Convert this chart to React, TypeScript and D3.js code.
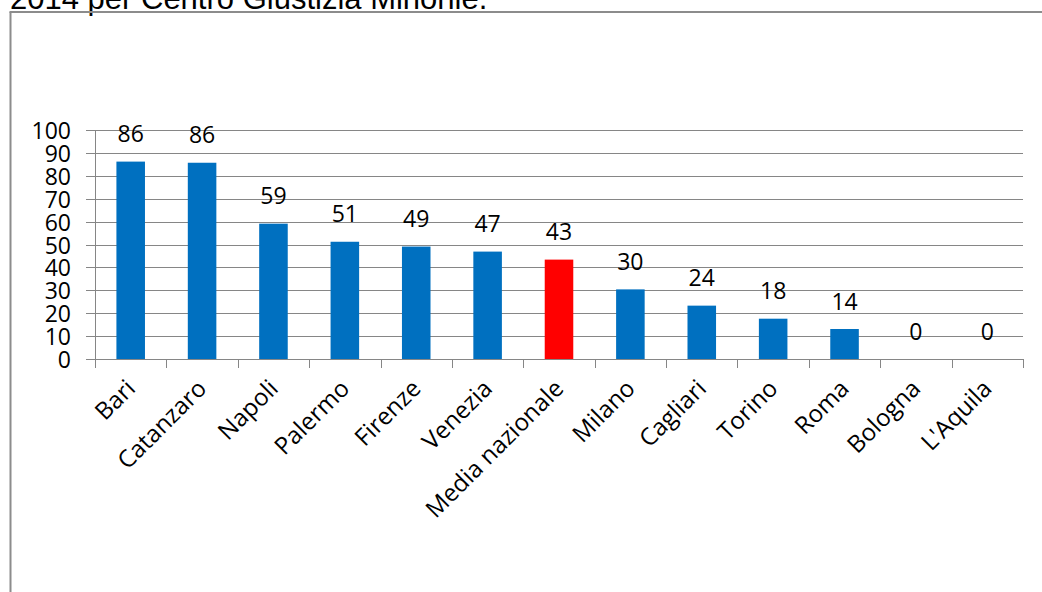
import React from "react";
import * as d3 from "d3";

const categories = ["Bari", "Catanzaro", "Napoli", "Palermo", "Firenze", "Venezia", "Media nazionale", "Milano", "Cagliari", "Torino", "Roma", "Bologna", "L'Aquila"];
const values = [86.2, 85.7, 59.1, 51.2, 49.1, 46.9, 43.4, 30.4, 23.3, 17.6, 13.1, 0, 0];
const labels = ["86", "86", "59", "51", "49", "47", "43", "30", "24", "18", "14", "0", "0"];
const highlighted = ["Media nazionale"];
const yTicks = [0, 10, 20, 30, 40, 50, 60, 70, 80, 90, 100];
const titleText = "2014 per Centro Giustizia Minorile.";

const W = 1042, H = 592;
const X0 = 95, X1 = 1023, Y0 = 359, Y1 = 130;
const FONT = "'Open Sans', sans-serif";
const GRID = "#868686";

export default function App() {
  const x = d3.scaleBand<string>().domain(categories).range([X0, X1]).paddingInner(0.6).paddingOuter(0.3);
  const y = d3.scaleLinear().domain([0, 100]).range([Y0, Y1]);
  const step = x.step();
  const bounds = d3.range(categories.length + 1).map((i) => X0 + i * step);
  return (
    <svg width={W} height={H} style={{ position: "absolute", left: 0, top: 0, background: "#fff" }}>
      <rect x={0} y={0} width={W} height={H} fill="#fff" />
      <text x={10} y={9} fontFamily="'Liberation Sans', Arial, sans-serif" fontSize={31} fill="#000">{titleText}</text>
      <line x1={10.5} y1={12} x2={10.5} y2={H} stroke="#8c8c8c" strokeWidth={2} />
      <line x1={9.5} y1={12} x2={W} y2={12} stroke="#8c8c8c" strokeWidth={2} />
      {yTicks.filter((t) => t > 0).map((t) => (
        <line key={"g" + t} x1={86} x2={X1} y1={Math.round(y(t)) + 0.5} y2={Math.round(y(t)) + 0.5} stroke={GRID} strokeWidth={1} />
      ))}
      {categories.map((c, i) => (
        <rect key={c} x={x(c)} y={y(values[i])} width={x.bandwidth()} height={Y0 - y(values[i])}
          fill={highlighted.includes(c) ? "#FF0000" : "#0070C0"} />
      ))}
      <line x1={X0 + 0.5} x2={X0 + 0.5} y1={Y1} y2={Y0} stroke={GRID} strokeWidth={1} />
      {yTicks.map((t) => (
        <line key={"yt" + t} x1={86} x2={X0} y1={Math.round(y(t)) + 0.5} y2={Math.round(y(t)) + 0.5} stroke={GRID} strokeWidth={1} />
      ))}
      <line x1={86} x2={X1} y1={Y0 + 0.5} y2={Y0 + 0.5} stroke={GRID} strokeWidth={1} />
      {bounds.map((b, i) => (
        <line key={"xt" + i} x1={Math.round(b) + 0.5} x2={Math.round(b) + 0.5} y1={Y0} y2={Y0 + 9} stroke={GRID} strokeWidth={1} />
      ))}
      {yTicks.map((t) => (
        <text key={"yl" + t} x={71} y={y(t) + 9} textAnchor="end" fontFamily={FONT} fontSize={23} fill="#000">{t}</text>
      ))}
      {categories.map((c, i) => (
        <text key={"dl" + c} x={(x(c) as number) + x.bandwidth() / 2} y={y(values[i]) - 19.5} textAnchor="middle" fontFamily={FONT} fontSize={23} fill="#000">{labels[i]}</text>
      ))}
      {categories.map((c) => {
        const cx = (x(c) as number) + x.bandwidth() / 2;
        return (
          <text key={"xl" + c} transform={`translate(${cx + 6},${390}) rotate(-45)`} textAnchor="end" fontFamily={FONT} fontSize={24} fill="#000">{c}</text>
        );
      })}
    </svg>
  );
}
